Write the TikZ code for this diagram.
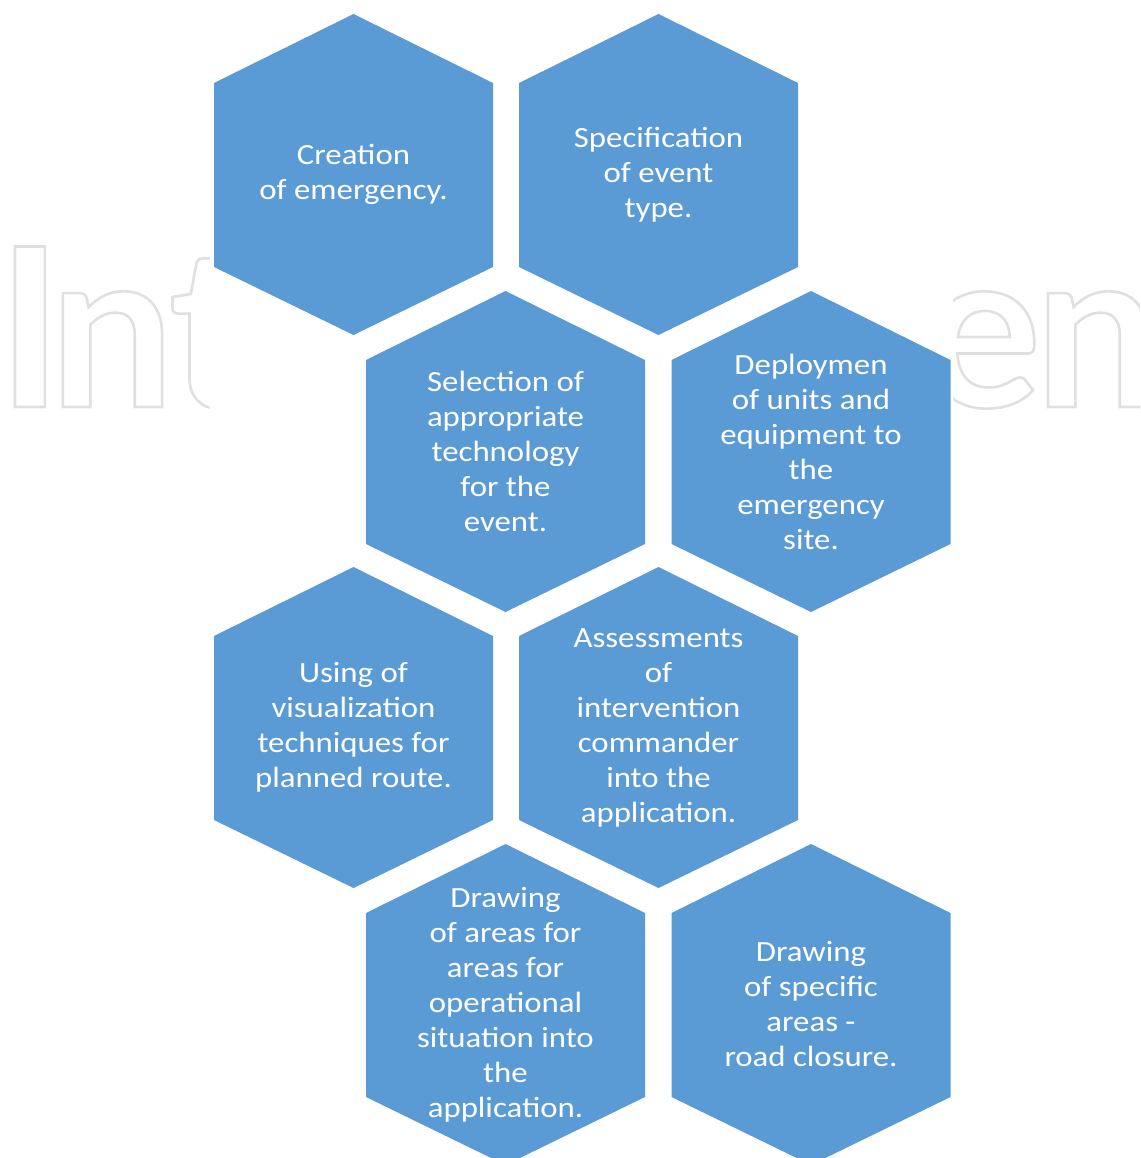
\documentclass[tikz,border=0pt]{standalone}
\usepackage{fontspec}
\setmainfont{Carlito}[FakeStretch=1.12]
\newfontfamily\wmfont{Lato}
\definecolor{hexblue}{RGB}{91,155,213}
\definecolor{wmgray}{RGB}{224,224,224}
\newcommand\outlinetext[1]{\special{pdf:literal direct 1 Tr 2.6 w}#1\special{pdf:literal direct 0 Tr}}
\tikzset{
  hexnode/.style={shape=rectangle, minimum width=279pt, minimum height=321pt,
    inner sep=0pt, align=center, text=white,
    font=\fontsize{29.3}{35}\selectfont,
    path picture={\fill[hexblue]
      (path picture bounding box.north)
      -- ([yshift=-69pt]path picture bounding box.north east)
      -- ([yshift=68pt]path picture bounding box.south east)
      -- (path picture bounding box.south)
      -- ([yshift=68pt]path picture bounding box.south west)
      -- ([yshift=-69pt]path picture bounding box.north west)
      -- cycle;}},
  wmark/.style={inner sep=0pt, text=wmgray, anchor=base,
    font=\wmfont\bfseries\fontsize{222}{222}\selectfont}
}
\begin{document}
\begin{tikzpicture}[x=1pt,y=-1pt]
\clip (0,0) rectangle (1140,1158);
\fill[white] (0,0) rectangle (1140,1158);
% watermark (partly hidden)
\node[wmark] (wmI) at (30,407) {\outlinetext{I}};
\node[wmark] (wmN) at (112,407) {\outlinetext{n}};
\node[wmark] (wmT) at (210,407) {\outlinetext{t}};
\node[wmark] (wmE) at (982,407) {\outlinetext{e}};
\node[wmark] (wmN2) at (1097,407) {\outlinetext{n}};
\fill[white] (210,0) rectangle (953,1158);
% hexagons
\node[hexnode] (h1) at (353.5,174.5) {Creation\\of emergency.};
\node[hexnode] (h2) at (658.5,174.5) {Specification\\of event\\type.};
\node[hexnode] (h3) at (505.5,451.5) {Selection of\\appropriate\\technology\\for the\\event.};
\node[hexnode] (h4) at (811,451.5) {Deploymen\\of units and\\equipment to\\the\\emergency\\site.};
\node[hexnode] (h5) at (353.5,727.5) {Using of\\visualization\\techniques for\\planned route.};
\node[hexnode] (h6) at (658.5,727.5) {Assessments\\of\\intervention\\commander\\into the\\application.};
\node[hexnode] (h7) at (505.5,1004.5) {Drawing\\of areas for\\areas for\\operational\\situation into\\the\\application.};
\node[hexnode] (h8) at (811,1004.5) {Drawing\\of specific\\areas -\\road closure.};
\end{tikzpicture}
\end{document}
